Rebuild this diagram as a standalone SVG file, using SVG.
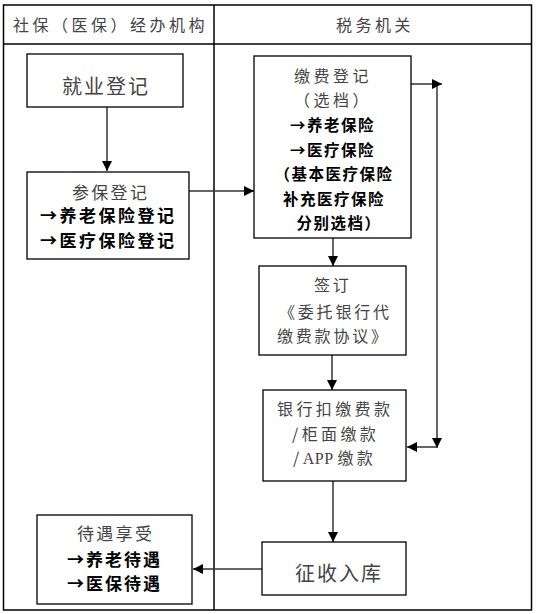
<svg xmlns="http://www.w3.org/2000/svg" width="536" height="614" viewBox="0 0 536 614">
<style>
.tbl{fill:none;stroke:#000;stroke-width:1.5}
.box{fill:#fff;stroke:#000;stroke-width:1.3}
.con{fill:none;stroke:#333;stroke-width:1.5}
text{font-family:"Noto Sans CJK SC","Noto Sans",sans-serif}
.t{fill:#444}
.b{fill:#000;font-weight:bold}
.h{font-size:16px;letter-spacing:3.5px;fill:#444}
</style>
<defs>
<marker id="ah" markerUnits="userSpaceOnUse" markerWidth="11" markerHeight="11" refX="10" refY="5" orient="auto">
<path d="M0,0 L10,5 L0,10 z" fill="#000"/>
</marker>
</defs>
<rect width="536" height="614" fill="#fff"/>
<g id="table">
<rect class="tbl" x="3.5" y="5" width="528" height="605"/>
<line class="tbl" x1="3.5" y1="44" x2="531.5" y2="44"/>
<line class="tbl" x1="214" y1="5" x2="214" y2="610"/>
<text class="h" x="13" y="31">社保（医保）经办机构</text>
<text class="h" x="336" y="31">税务机关</text>
</g>
<g id="connectors">
<path class="con" d="M107,107 V171" marker-end="url(#ah)"/>
<path class="con" d="M189,191 H254" marker-end="url(#ah)"/>
<path class="con" d="M411,84 H442" marker-end="url(#ah)"/>
<path class="con" d="M437,86 V448" marker-end="url(#ah)"/>
<path class="con" d="M437,447 H407" marker-end="url(#ah)"/>
<path class="con" d="M333,238 V266" marker-end="url(#ah)"/>
<path class="con" d="M332,355 V390" marker-end="url(#ah)"/>
<path class="con" d="M333,481 V542" marker-end="url(#ah)"/>
<path class="con" d="M262,569 H193" marker-end="url(#ah)"/>
</g>
<g id="n-jiuye">
<rect class="box" x="27" y="54" width="156" height="53"/>
<text class="t" x="62" y="94" font-size="20" letter-spacing="2">就业登记</text>
</g>
<g id="n-canbao">
<rect class="box" x="27" y="172" width="162" height="87"/>
<text class="t" x="72" y="198.5" font-size="17" letter-spacing="2.3">参保登记</text>
<text class="b" x="40" y="221.5" font-size="17" letter-spacing="2.5">→养老保险登记</text>
<text class="b" x="40" y="246.5" font-size="17" letter-spacing="2.5">→医疗保险登记</text>
</g>
<g id="n-jiaofei">
<rect class="box" x="254" y="56" width="157" height="182"/>
<text class="t" x="333" y="82" font-size="16" letter-spacing="3.5" text-anchor="middle">缴费登记</text>
<text class="t" x="333" y="106" font-size="16" letter-spacing="3.5" text-anchor="middle">（选档）</text>
<g class="b" font-size="15.5" letter-spacing="1.5" text-anchor="middle">
<text x="332.5" y="131">→养老保险</text>
<text x="332.5" y="155.5">→医疗保险</text>
<text x="334" y="180">（基本医疗保险</text>
<text x="334" y="204.5">补充医疗保险</text>
<text x="339" y="229">分别选档）</text>
</g>
</g>
<g id="n-qianding">
<rect class="box" x="259" y="266" width="147" height="89"/>
<text class="t" x="314" y="291" font-size="16" letter-spacing="2.8">签订</text>
<text class="t" x="279" y="318" font-size="16" letter-spacing="2.8">《委托银行代</text>
<text class="t" x="277" y="342" font-size="16" letter-spacing="2.8">缴费款协议》</text>
</g>
<g id="n-yinhang">
<rect class="box" x="263" y="390" width="143" height="91"/>
<text class="t" x="277" y="415" font-size="16" letter-spacing="3.4">银行扣缴费款</text>
<text class="t" x="292" y="440" font-size="16" letter-spacing="3.4">/柜面缴款</text>
<text class="t" x="293" y="464" font-size="16" letter-spacing="3.4">/<tspan font-family="Liberation Serif" letter-spacing="0.5">APP </tspan>缴款</text>
</g>
<g id="n-zhengshou">
<rect class="box" x="262" y="542" width="144" height="53"/>
<text class="t" x="295" y="580.5" font-size="20" letter-spacing="2">征收入库</text>
</g>
<g id="n-daiyu">
<rect class="box" x="37" y="515" width="155" height="89"/>
<text class="t" x="77" y="539.5" font-size="17" letter-spacing="2.3">待遇享受</text>
<text class="b" x="67" y="565.5" font-size="17" letter-spacing="2">→养老待遇</text>
<text class="b" x="67" y="589.5" font-size="17" letter-spacing="2">→医保待遇</text>
</g>
</svg>
